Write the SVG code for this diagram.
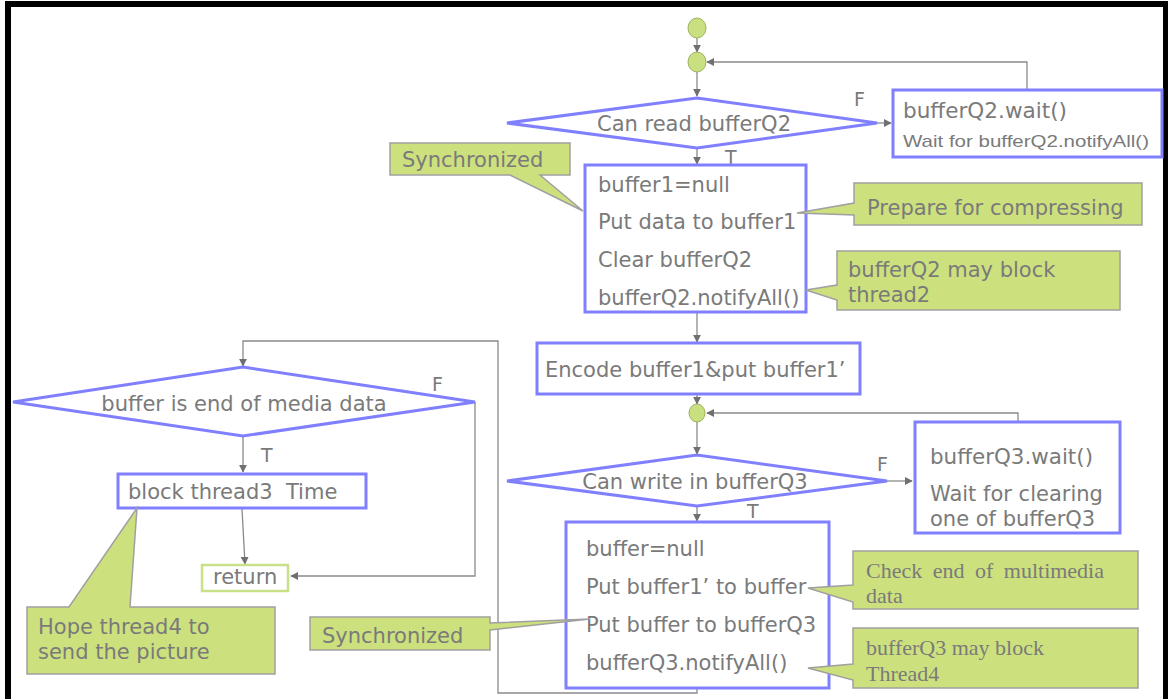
<svg xmlns="http://www.w3.org/2000/svg" width="1168" height="699" viewBox="0 0 1168 699">
<defs>
<marker id="ah" viewBox="0 0 10 10" refX="9" refY="5" markerWidth="8" markerHeight="8" markerUnits="userSpaceOnUse" orient="auto">
<path d="M0,0 L10,5 L0,10 z" fill="#707070"/>
</marker>
<style>
.bx{fill:#fff;stroke:#8080ff;stroke-width:3}
.dm{fill:#fff;stroke:#8080ff;stroke-width:3}
.ln{fill:none;stroke:#8a8a8a;stroke-width:1.3}
.ar{fill:none;stroke:#8a8a8a;stroke-width:1.3;marker-end:url(#ah)}
.co{fill:#cce17e;stroke:#a0a0a0;stroke-width:1.5}
.ci{fill:#c8e080;stroke:#a0b060;stroke-width:1}
.t{font-family:"DejaVu Sans",Verdana,sans-serif;font-size:21px;fill:#7a7a7a;white-space:pre}
.s{font-family:"Liberation Serif","Times New Roman",serif;font-size:22px;fill:#7a7a7a}
.lb{font-family:"DejaVu Sans",sans-serif;font-size:19px;fill:#7a7a7a}
.n{font-family:"Liberation Sans",Arial,sans-serif;font-size:17px;fill:#7a7a7a}
</style>
</defs>
<rect x="0" y="0" width="1168" height="699" fill="#fff"/>
<path d="M8,699 V4 H1166 V699" fill="none" stroke="#000" stroke-width="6"/>
<line x1="1165.5" y1="4" x2="1165.5" y2="699" stroke="#000" stroke-width="2"/>

<g id="connectors">
<line class="ar" x1="697" y1="38" x2="697" y2="52"/>
<line class="ar" x1="697" y1="72" x2="697" y2="96"/>
<polyline class="ar" points="1027,90 1027,62 707,62"/>
<line class="ar" x1="877" y1="123" x2="891" y2="123"/>
<line class="ar" x1="697" y1="149" x2="697" y2="164"/>
<line class="ar" x1="697" y1="312" x2="697" y2="342"/>
<line class="ar" x1="697" y1="394" x2="697" y2="404"/>
<polyline class="ar" points="1018,422 1018,413 707,413"/>
<line class="ar" x1="697" y1="422" x2="697" y2="454"/>
<line class="ar" x1="887" y1="481" x2="912" y2="481"/>
<line class="ar" x1="697" y1="507" x2="697" y2="521"/>
<polyline class="ar" points="697,689 697,693 498,693 498,341 243,341 243,366"/>
<polyline class="ar" points="475,402 475,576 291,576"/>
<line class="ar" x1="243" y1="436" x2="243" y2="472"/>
<line class="ar" x1="242" y1="509" x2="245" y2="564"/>
</g>

<g id="start"><ellipse class="ci" cx="697" cy="28" rx="9" ry="10"/></g>
<g id="merge1"><ellipse class="ci" cx="697" cy="62" rx="9" ry="10"/></g>

<g id="dec1">
<polygon class="dm" points="507,123 697,98 877,123 697,148"/>
<text class="t" x="694" y="131" text-anchor="middle">Can read bufferQ2</text>
<text class="lb" x="854" y="106">F</text>
<text class="lb" x="725" y="164">T</text>
</g>

<g id="wait2">
<rect class="bx" x="893" y="90" width="269" height="67"/>
<text class="t" x="903" y="118" font-size="21" textLength="164" lengthAdjust="spacingAndGlyphs">bufferQ2.wait()</text>
<text class="n" x="903" y="147" textLength="246" lengthAdjust="spacingAndGlyphs">Wait for bufferQ2.notifyAll()</text>
</g>

<g id="sync1">
<path class="co" d="M390,143 H570 V175 H540 L583,211 L510,175 H390 Z"/>
<text class="t" x="402" y="167">Synchronized</text>
</g>

<g id="read">
<rect class="bx" x="585" y="165" width="221" height="147"/>
<text class="t" x="598" y="192">buffer1=null</text>
<text class="t" x="598" y="229">Put data to buffer1</text>
<text class="t" x="598" y="267">Clear bufferQ2</text>
<text class="t" x="598" y="305">bufferQ2.notifyAll()</text>
</g>

<g id="prep">
<path class="co" d="M854,183 H1142 V225 H854 V215 L797,213 L854,203 Z"/>
<text class="t" x="867" y="215">Prepare for compressing</text>
</g>

<g id="block2">
<path class="co" d="M837,251 H1120 V310 H837 V300 L806,290 L837,285 Z"/>
<text class="t" x="848" y="277">bufferQ2 may block</text>
<text class="t" x="848" y="302">thread2</text>
</g>

<g id="encode">
<rect class="bx" x="537" y="343" width="323" height="51"/>
<text class="t" x="545" y="377">Encode buffer1&amp;put buffer1’</text>
</g>

<g id="merge2"><ellipse class="ci" cx="697" cy="413" rx="8" ry="9"/></g>

<g id="dec2">
<polygon class="dm" points="507,481 697,455 887,481 697,506"/>
<text class="t" x="695" y="489" text-anchor="middle">Can write in bufferQ3</text>
<text class="lb" x="877" y="471">F</text>
<text class="lb" x="747" y="518">T</text>
</g>

<g id="wait3">
<rect class="bx" x="915" y="422" width="205" height="111"/>
<text class="t" x="930" y="464" textLength="163" lengthAdjust="spacingAndGlyphs">bufferQ3.wait()</text>
<text class="t" x="930" y="501">Wait for clearing</text>
<text class="t" x="930" y="526">one of bufferQ3</text>
</g>

<g id="write">
<rect class="bx" x="566" y="522" width="263" height="166"/>
<text class="t" x="586" y="556">buffer=null</text>
<text class="t" x="586" y="594">Put buffer1’ to buffer</text>
<text class="t" x="586" y="632">Put buffer to bufferQ3</text>
<text class="t" x="586" y="670">bufferQ3.notifyAll()</text>
</g>

<g id="check">
<path class="co" d="M853,551 H1138 V609 H853 V602 L808,588 L853,585 Z"/>
<text class="s" x="866" y="578" word-spacing="5">Check end of multimedia</text>
<text class="s" x="866" y="603">data</text>
</g>

<g id="block4">
<path class="co" d="M853,628 H1138 V688 H853 V680 L808,668 L853,664 Z"/>
<text class="s" x="866" y="655">bufferQ3 may block</text>
<text class="s" x="866" y="681">Thread4</text>
</g>

<g id="sync2">
<path class="co" d="M310,617 H490 V623 L590,619 L490,630 V650 H310 Z"/>
<text class="t" x="322" y="643">Synchronized</text>
</g>

<g id="dec3">
<polygon class="dm" points="13,402 243,367 475,402 243,436"/>
<text class="t" x="244" y="411" text-anchor="middle">buffer is end of media data</text>
<text class="lb" x="432" y="391">F</text>
<text class="lb" x="261" y="462">T</text>
</g>

<g id="blk3">
<rect class="bx" x="118" y="474" width="248" height="34"/>
<text class="t" x="128" y="499" xml:space="preserve">block thread3  Time</text>
</g>

<g id="ret">
<rect x="202" y="565" width="86" height="26" fill="#fff" stroke="#c8e088" stroke-width="2.5"/>
<text class="t" x="213" y="584">return</text>
</g>

<g id="hope">
<path class="co" d="M27,607 H69 L137,508 L130,607 H275 V674 H27 Z"/>
<text class="t" x="38" y="634">Hope thread4 to</text>
<text class="t" x="38" y="659">send the picture</text>
</g>
</svg>
